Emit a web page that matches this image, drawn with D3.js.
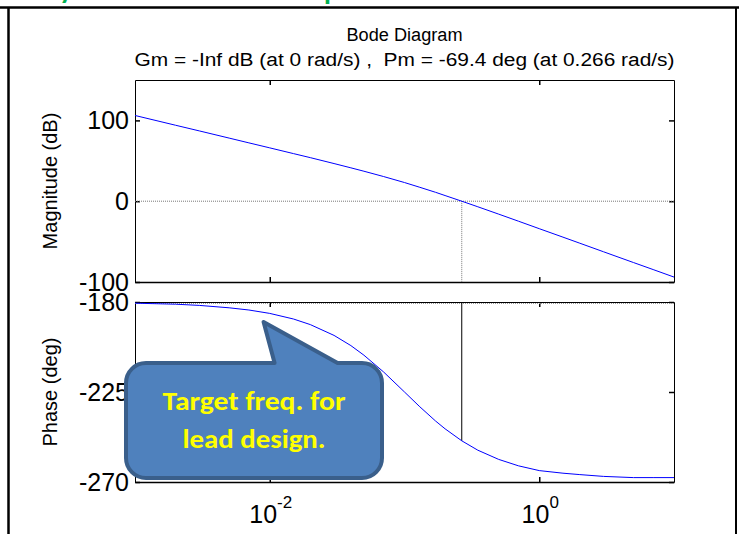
<!DOCTYPE html>
<html>
<head>
<meta charset="utf-8">
<script src="https://cdn.jsdelivr.net/npm/d3@7"></script>
<style>
  body { margin: 0; background: #fff; }
  svg { display: block; }
  text { font-family: "Liberation Sans", Arial, Helvetica, sans-serif; }
</style>
</head>
<body>
<svg id="chart" width="739" height="534"></svg>
<script>
// Open-loop frequency response (rad/s), magnitude in dB, phase in degrees
const freq = [0.001, 0.002, 0.003, 0.005, 0.007, 0.01, 0.015, 0.02, 0.03, 0.04, 0.05, 0.07,
              0.1, 0.13, 0.17, 0.2, 0.266, 0.35, 0.5, 0.7, 1, 1.5, 2, 3, 5, 7, 10];
const magnitudeDb = [106.1, 94.0, 87.0, 78.1, 72.2, 66.0, 58.9, 53.9, 46.6, 41.3, 37.1, 30.5,
                     23.1, 17.2, 11.0, 7.0, 0.0, -6.9, -16.0, -24.7, -34.0, -44.5, -52.0, -62.6, -75.9, -84.6, -93.9];
const phaseDeg = [-180.6, -181.1, -181.7, -182.9, -184.0, -185.7, -188.5, -191.3, -196.7, -201.8, -206.6, -215.0,
                  -225.0, -232.4, -239.5, -243.4, -249.4, -254.1, -258.7, -261.9, -264.3, -265.6, -266.3, -267.2, -267.8, -267.8, -267.8];

const freqDomain = [0.001, 10];
const xTickExponents = [-2, 0];
const magDomain = [-100, 150];
const magTicks = [-100, 0, 100];
const phaseDomain = [-270, -180];
const phaseTicks = [-270, -225, -180];

const titleLines = ["Bode Diagram", "Gm = -Inf dB (at 0 rad/s) ,  Pm = -69.4 deg (at 0.266 rad/s)"];
const crossoverFreq = 0.266;   // gain crossover (rad/s)
const phaseMargin = -69.4;     // deg
const calloutLines = ["Target freq. for", "lead design."];
const calloutTip = { f: 0.009, p: -190 };

const svg = d3.select("#chart");

// Slide frame
svg.append("line").attr("x1", 0).attr("x2", 739).attr("y1", 7.5).attr("y2", 7.5)
  .attr("stroke", "#000").attr("stroke-width", 2.5);
svg.append("line").attr("x1", 8.5).attr("x2", 8.5).attr("y1", 7).attr("y2", 534)
  .attr("stroke", "#000").attr("stroke-width", 2.5);
svg.append("line").attr("x1", 736).attr("x2", 736).attr("y1", 7).attr("y2", 534)
  .attr("stroke", "#000").attr("stroke-width", 2);

// Slide heading running off the top edge
svg.append("text").attr("x", 59).attr("y", -2.5).text("y")
  .style("font-family", "Lato, 'Open Sans', sans-serif").style("font-weight", 700)
  .style("font-size", "28px").attr("fill", "#00B050");
svg.append("text").attr("x", 324).attr("y", -1).text("p")
  .style("font-family", "Lato, 'Open Sans', sans-serif").style("font-weight", 700)
  .style("font-size", "28px").attr("fill", "#00B050");

const x = d3.scaleLog().domain(freqDomain).range([135, 674]);
const yMag = d3.scaleLinear().domain(magDomain).range([282, 80]);
const yPh = d3.scaleLinear().domain(phaseDomain).range([482, 302]);
const xTicks = xTickExponents.map(e => Math.pow(10, e));

// Title
svg.append("text").attr("x", 404.5).attr("y", 41).attr("text-anchor", "middle")
  .attr("textLength", 116).attr("lengthAdjust", "spacingAndGlyphs")
  .style("font-size", "18px").text(titleLines[0]);
svg.append("text").attr("x", 404.5).attr("y", 66).attr("text-anchor", "middle")
  .attr("textLength", 540).attr("lengthAdjust", "spacingAndGlyphs")
  .style("white-space", "pre").attr("xml:space", "preserve")
  .style("font-size", "18px").text(titleLines[1]);

function drawPanel(yScale, yTicks, clipId) {
  const g = svg.append("g");
  const [x0, x1] = x.range();
  const [yb, yt] = yScale.range();

  svg.append("clipPath").attr("id", clipId)
    .append("rect").attr("x", x0).attr("y", yt).attr("width", x1 - x0).attr("height", yb - yt);

  const styleAxis = a => {
    a.selectAll(".domain").attr("stroke", "#000").attr("stroke-width", 1);
    a.selectAll(".tick line").attr("stroke", "#000").attr("stroke-width", 1.5);
  };

  g.append("g").attr("transform", `translate(${x0},0)`)
    .call(d3.axisLeft(yScale).tickValues(yTicks).tickSizeInner(-5).tickSizeOuter(0)
      .tickPadding(6).tickFormat(d => String(d)))
    .call(styleAxis)
    .call(a => a.selectAll("text").style("font-size", "25px").attr("fill", "#000")
      .style("font-family", "'Liberation Sans', Arial, sans-serif"));
  g.append("g").attr("transform", `translate(${x1},0)`)
    .call(d3.axisRight(yScale).tickValues(yTicks).tickSizeInner(-5).tickSizeOuter(0).tickFormat(""))
    .call(styleAxis);
  g.append("g").attr("transform", `translate(0,${yt})`)
    .call(d3.axisTop(x).tickValues(xTicks).tickSizeInner(-5).tickSizeOuter(0).tickFormat(""))
    .call(styleAxis);
  g.append("g").attr("transform", `translate(0,${yb})`)
    .call(d3.axisBottom(x).tickValues(xTicks).tickSizeInner(-5).tickSizeOuter(0).tickFormat(""))
    .call(styleAxis)
    .call(a => a.select(".domain").attr("stroke-width", 1.6));
  return g;
}

// Magnitude panel
const gMag = drawPanel(yMag, magTicks, "clipMag");
gMag.append("line")
  .attr("x1", x.range()[0]).attr("x2", x.range()[1])
  .attr("y1", yMag(0)).attr("y2", yMag(0))
  .attr("stroke", "#777").attr("stroke-width", 1).attr("stroke-dasharray", "1,1");
gMag.append("line")
  .attr("x1", x(crossoverFreq)).attr("x2", x(crossoverFreq))
  .attr("y1", yMag(0)).attr("y2", yMag(magDomain[0]))
  .attr("stroke", "#777").attr("stroke-width", 1).attr("stroke-dasharray", "1,1");
gMag.append("path")
  .datum(freq.map((f, i) => ({ f, v: magnitudeDb[i] })))
  .attr("clip-path", "url(#clipMag)")
  .attr("fill", "none").attr("stroke", "#0000FF").attr("stroke-width", 1)
  .attr("d", d3.line().x(d => x(d.f)).y(d => yMag(d.v)));

// Phase panel
const gPh = drawPanel(yPh, phaseTicks, "clipPh");
gPh.append("line")
  .attr("x1", x.range()[0]).attr("x2", x.range()[1])
  .attr("y1", yPh(-180) + 1.5).attr("y2", yPh(-180) + 1.5)
  .attr("stroke", "#999").attr("stroke-width", 1).attr("stroke-dasharray", "1,1");
gPh.append("line")
  .attr("x1", x(crossoverFreq)).attr("x2", x(crossoverFreq))
  .attr("y1", yPh(-180)).attr("y2", yPh(-180 + phaseMargin))
  .attr("stroke", "#000").attr("stroke-width", 1);
gPh.append("path")
  .datum(freq.map((f, i) => ({ f, v: phaseDeg[i] })))
  .attr("clip-path", "url(#clipPh)")
  .attr("fill", "none").attr("stroke", "#0000FF").attr("stroke-width", 1)
  .attr("d", d3.line().x(d => x(d.f)).y(d => yPh(d.v)));

// Frequency labels 10^n
xTickExponents.forEach(e => {
  const t = svg.append("text").attr("x", x(Math.pow(10, e)) + 1).attr("y", 523)
    .attr("text-anchor", "middle").style("font-size", "25px");
  t.append("tspan").text("10");
  t.append("tspan").attr("dy", -15).style("font-size", "17px").text(String(e));
});

// Axis titles
svg.append("text").attr("transform", `translate(57,${(yMag.range()[0] + yMag.range()[1]) / 2}) rotate(-90)`)
  .attr("text-anchor", "middle").style("font-size", "20px").text("Magnitude (dB)");
svg.append("text").attr("transform", `translate(57,${(yPh.range()[0] + yPh.range()[1]) / 2}) rotate(-90)`)
  .attr("text-anchor", "middle").style("font-size", "20px").text("Phase (deg)");

// Callout pointing at the target frequency
const tipX = x(calloutTip.f), tipY = yPh(calloutTip.p);
const L = 126, R = 382, T = 363, B = 478, r = 20;
const p = d3.path();
p.moveTo(L + r, T);
p.lineTo(tipX + 11, T);
p.lineTo(tipX, tipY);
p.lineTo(tipX + 74, T);
p.arcTo(R, T, R, T + r, r);
p.arcTo(R, B, R - r, B, r);
p.arcTo(L, B, L, B - r, r);
p.arcTo(L, T, L + r, T, r);
p.closePath();
svg.append("path").attr("d", p.toString())
  .attr("fill", "#4F81BD").attr("stroke", "#3A5F8B").attr("stroke-width", 4).attr("stroke-linejoin", "round");

const cx = (L + R) / 2;
[[calloutLines[0], 410, 183], [calloutLines[1], 448, 143]].forEach(([s, yy, w]) => {
  svg.append("text").attr("x", cx).attr("y", yy).attr("text-anchor", "middle")
    .attr("textLength", w).attr("lengthAdjust", "spacingAndGlyphs")
    .style("font-family", "Carlito, Calibri, Lato, 'Open Sans', sans-serif")
    .style("font-weight", 700).style("font-size", "26px").attr("fill", "#FFFF00").text(s);
});
</script>
</body>
</html>
